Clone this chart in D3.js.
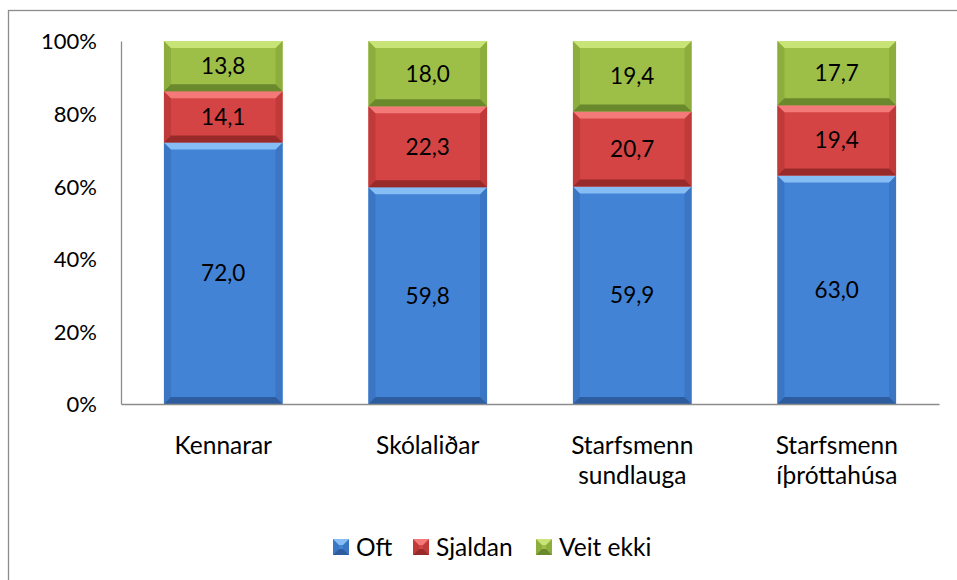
<!DOCTYPE html>
<html>
<head>
<meta charset="utf-8">
<script src="https://cdn.jsdelivr.net/npm/d3@7"></script>
<style>
  body { margin: 0; background: #fff; }
  text { font-family: Lato, "Open Sans", sans-serif; fill: #000; }
</style>
</head>
<body>
<div id="chart"></div>
<script>
// categories and series (values in %)
var categories = [ "Kennarar", "Skólaliðar", "Starfsmenn sundlauga", "Starfsmenn íþróttahúsa" ];
var categoryLines = [ [ "Kennarar" ], [ "Skólaliðar" ], [ "Starfsmenn", "sundlauga" ], [ "Starfsmenn", "íþróttahúsa" ] ];
var seriesNames = [ "Oft", "Sjaldan", "Veit ekki" ];
var oft = [ 72.0, 59.8, 59.9, 63.0 ];
var sjaldan = [ 14.1, 22.3, 20.7, 19.4 ];
var veitEkki = [ 13.8, 18.0, 19.4, 17.7 ];
var yTicks = [ 0, 0.2, 0.4, 0.6, 0.8, 1 ];

var colors = [
	{ main: "#4283d6", light: "#86bdf4", dark: "#2d5d9e", side: "#3b76c4" },
	{ main: "#d44444", light: "#f47a7a", dark: "#982a2a", side: "#c03a3a" },
	{ main: "#9dbf48", light: "#c9e476", dark: "#6a892c", side: "#8dae3c" }
];

var W = 957, H = 580;
var margin = { top: 41, right: 18, bottom: 176, left: 121 },
	width = W - margin.left - margin.right,
	height = H - margin.top - margin.bottom;

var data = categories.map( function( c, i ) {
	return { cat: c, "Oft": oft[ i ], "Sjaldan": sjaldan[ i ], "Veit ekki": veitEkki[ i ] };
} );

var stack = d3.stack().keys( seriesNames ).offset( d3.stackOffsetExpand );
var series = stack( data );

var x = d3.scaleBand().domain( categories ).range( [ 0, width ] ).paddingInner( 0.42 ).paddingOuter( 0.21 );
var y = d3.scaleLinear().domain( [ 0, 1 ] ).range( [ height, 0 ] );

var svg = d3.select( "#chart" ).append( "svg" )
	.attr( "width", W )
	.attr( "height", H );

// outer chart border
svg.append( "rect" )
	.attr( "x", 8.5 ).attr( "y", 10.5 )
	.attr( "width", 1200 ).attr( "height", 900 )
	.attr( "fill", "none" ).attr( "stroke", "#8c8c8c" ).attr( "stroke-width", 1.3 );

var g = svg.append( "g" )
	.attr( "transform", "translate(" + margin.left + "," + margin.top + ")" );

// bevelled block
function bevel ( sel, x0, y0, w, h, c, b ) {
	var bh = Math.min( b, h / 2 );
	sel.append( "rect" ).attr( "x", x0 ).attr( "y", y0 ).attr( "width", w ).attr( "height", h ).attr( "fill", c.main );
	var pts = function( a ) { return a.map( function( p ) { return p.join( "," ); } ).join( " " ); };
	sel.append( "polygon" ).attr( "fill", c.side ).attr( "points", pts( [ [ x0, y0 ], [ x0 + b, y0 + bh ], [ x0 + b, y0 + h - bh ], [ x0, y0 + h ] ] ) );
	sel.append( "polygon" ).attr( "fill", c.side ).attr( "points", pts( [ [ x0 + w, y0 ], [ x0 + w - b, y0 + bh ], [ x0 + w - b, y0 + h - bh ], [ x0 + w, y0 + h ] ] ) );
	sel.append( "polygon" ).attr( "fill", c.light ).attr( "points", pts( [ [ x0, y0 ], [ x0 + w, y0 ], [ x0 + w - b, y0 + bh ], [ x0 + b, y0 + bh ] ] ) );
	sel.append( "polygon" ).attr( "fill", c.dark ).attr( "points", pts( [ [ x0, y0 + h ], [ x0 + w, y0 + h ], [ x0 + w - b, y0 + h - bh ], [ x0 + b, y0 + h - bh ] ] ) );
}

// bars
series.forEach( function( s, si ) {
	s.forEach( function( d, i ) {
		var cell = g.append( "g" );
		var y0 = y( d[ 1 ] ), y1 = y( d[ 0 ] );
		bevel( cell, x( categories[ i ] ), y0, x.bandwidth(), y1 - y0, colors[ si ], 7 );
		cell.append( "text" )
			.attr( "x", x( categories[ i ] ) + x.bandwidth() / 2 )
			.attr( "y", ( y0 + y1 ) / 2 )
			.attr( "dy", "0.36em" )
			.attr( "text-anchor", "middle" )
			.style( "font-size", "22.5px" )
			.text( d3.format( ".1f" )( d.data[ s.key ] ).replace( ".", "," ) );
	} );
} );

// y axis
var yAxis = d3.axisLeft( y ).tickValues( yTicks ).tickSize( 0 ).tickPadding( 24 ).tickFormat( d3.format( ".0%" ) );
var ya = g.append( "g" ).call( yAxis );
ya.select( ".domain" ).attr( "stroke", "#8c8c8c" ).attr( "stroke-width", 1.3 );
ya.selectAll( "text" ).style( "font-size", "22px" ).attr( "dy", "0.36em" );

// x axis
var xAxis = d3.axisBottom( x ).tickSize( 0 ).tickFormat( "" );
var xa = g.append( "g" ).attr( "transform", "translate(0," + height + ")" ).call( xAxis );
xa.select( ".domain" ).attr( "stroke", "#8c8c8c" ).attr( "stroke-width", 1.3 );

categoryLines.forEach( function( lines, i ) {
	var t = g.append( "text" )
		.attr( "text-anchor", "middle" )
		.style( "font-size", "24.5px" )
		.attr( "transform", "translate(" + ( x( categories[ i ] ) + x.bandwidth() / 2 ) + "," + ( height + 50 ) + ")" );
	lines.forEach( function( l, j ) {
		t.append( "tspan" ).attr( "x", 0 ).attr( "y", j * 30 ).text( l );
	} );
} );

// legend
var legendX = [ 333, 413, 536 ];
var legend = svg.append( "g" );
seriesNames.forEach( function( n, i ) {
	var item = legend.append( "g" ).attr( "transform", "translate(" + legendX[ i ] + ",539)" );
	bevel( item, 0, 0, 16, 16, colors[ i ], 6 );
	item.append( "text" ).attr( "x", 23 ).attr( "y", 8 ).attr( "dy", "0.36em" )
		.style( "font-size", "24.5px" ).text( n );
} );
</script>
</body>
</html>
